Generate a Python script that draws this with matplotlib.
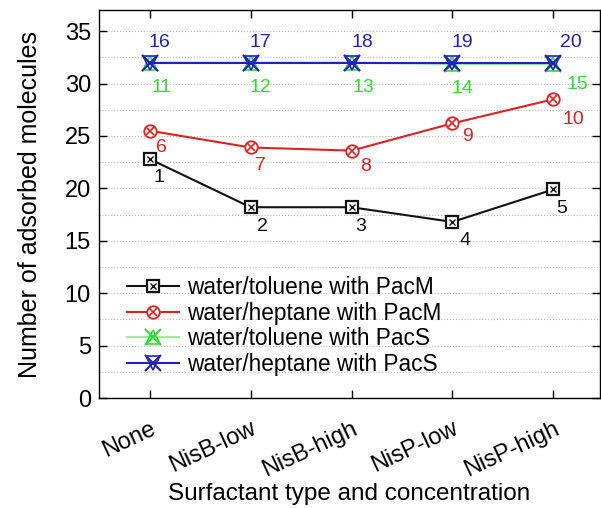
import matplotlib
matplotlib.use("Agg")
import matplotlib.pyplot as plt
from matplotlib.legend_handler import HandlerTuple
from matplotlib.ticker import MultipleLocator

plt.rcParams['font.family'] = ['Liberation Sans', 'DejaVu Sans']

categories = ["None", "NisB-low", "NisB-high", "NisP-low", "NisP-high"]
tol_pacm = [22.8, 18.2, 18.2, 16.8, 19.9]
hep_pacm = [25.5, 23.9, 23.6, 26.2, 28.5]
tol_pacs = [32.0, 32.0, 32.0, 31.85, 31.85]
hep_pacs = [32.0, 32.0, 32.0, 32.0, 32.0]
labels_tol_pacm = ["1", "2", "3", "4", "5"]
labels_hep_pacm = ["6", "7", "8", "9", "10"]
labels_tol_pacs = ["11", "12", "13", "14", "15"]
labels_hep_pacs = ["16", "17", "18", "19", "20"]
series_names = ["water/toluene with PacM", "water/heptane with PacM",
                "water/toluene with PacS", "water/heptane with PacS"]

BLACK = "#111111"
RED = "#dd2222"
GREEN = "#33dd33"
GREEN_LINE = "#99ee99"
BLUE = "#2222bb"

fig = plt.figure(figsize=(6.01, 5.08), dpi=100)
ax = fig.add_axes([0.165, 0.2165, 0.833, 0.7635])
x = list(range(len(categories)))

l4a, = ax.plot(x, hep_pacs, color=BLUE, lw=1.5, marker='v', ms=10, mfc='none', mec=BLUE, mew=1.2, zorder=3)
l3a, = ax.plot(x, tol_pacs, color=GREEN_LINE, lw=1.5, marker='^', ms=10, mfc='none', mec=GREEN, mew=1.2, zorder=2)
l3b, = ax.plot(x, tol_pacs, ls='none', marker='x', ms=12, mec=GREEN, mew=1.5, zorder=2)
l4b, = ax.plot(x, hep_pacs, ls='none', marker='x', ms=12, mec=BLUE, mew=1.5, zorder=3)

l2a, = ax.plot(x, hep_pacm, color=RED, lw=1.5, marker='o', ms=9, mfc='white', mec=RED, mew=1.3, zorder=4)
l2b, = ax.plot(x, hep_pacm, ls='none', marker='x', ms=6, mec=RED, mew=1.2, zorder=5)

l1a, = ax.plot(x, tol_pacm, color=BLACK, lw=1.5, marker='s', ms=8, mfc='white', mec=BLACK, mew=1.6, zorder=4)
l1b, = ax.plot(x, tol_pacm, ls='none', marker='x', ms=5, mec=BLACK, mew=1.0, zorder=5)

def annotate(vals, labs, offsets, color):
    for xi, v, lab, off in zip(x, vals, labs, offsets):
        ax.annotate(lab, (xi, v), xytext=off, textcoords='offset pixels',
                    ha='center', va='center', color=color, fontsize=14)

annotate(tol_pacm, labels_tol_pacm, [(9, -18), (12, -19), (9, -19), (13, -19), (8, -19)], BLACK)
annotate(hep_pacm, labels_hep_pacm, [(12, -17), (10, -18), (14, -16), (15, -13), (20, -20)], RED)
annotate(tol_pacs, labels_tol_pacs, [(12, -25), (10, -25), (12, -25), (10, -24), (24, -20)], GREEN)
annotate(hep_pacs, labels_hep_pacs, [(10, 20), (10, 20), (11, 20), (10, 20), (18, 20)], BLUE)

ax.set_xlim(-0.5, 4.46)
ax.set_ylim(0, 37)
ax.set_xticks(x)
ax.set_xticklabels(categories, rotation=25, ha='right', rotation_mode='anchor', fontsize=17)
ax.yaxis.set_major_locator(MultipleLocator(5))
ax.yaxis.set_minor_locator(MultipleLocator(2.5))
ax.tick_params(axis='both', which='major', direction='in', top=True, right=True, length=6, width=1, labelsize=17)
ax.tick_params(axis='y', which='minor', length=0, left=False, right=False)
ax.tick_params(axis='x', which='major', pad=14)
ax.tick_params(axis='y', which='major', pad=6)
ax.grid(True, axis='y', which='both', color='#bbbbbb', ls=':', lw=0.8)
ax.set_axisbelow(True)
for s in ax.spines.values():
    s.set_linewidth(1.0)

ax.set_ylabel("Number of adsorbed molecules", fontsize=18, labelpad=16)
ax.set_xlabel("Surfactant type and concentration", fontsize=17.5, labelpad=2)

leg = ax.legend([(l1a, l1b), (l2a, l2b), (l3a, l3b), (l4a, l4b)], series_names,
                handler_map={tuple: HandlerTuple(ndivide=1)},
                loc='center left', bbox_to_anchor=(0.055, 0.186), frameon=False,
                fontsize=16.3, handlelength=2.3, handletextpad=0.35, labelspacing=0.12,
                borderpad=0, borderaxespad=0)

fig.savefig("out.png", dpi=100)
